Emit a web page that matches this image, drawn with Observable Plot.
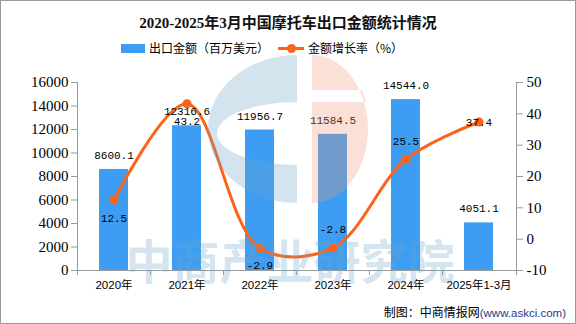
<!DOCTYPE html>
<html><head><meta charset="utf-8">
<script src="https://cdn.jsdelivr.net/npm/d3@7"></script>
<script src="https://cdn.jsdelivr.net/npm/@observablehq/plot@0.6"></script>
<style>
html,body{margin:0;padding:0;background:#fff;}
#wrap{position:relative;width:576px;height:324px;overflow:hidden;font-family:"Noto Sans CJK SC",sans-serif;color:#000;}
#chart{position:absolute;left:0;top:0;}
#border{position:absolute;left:0;top:0;width:576px;height:324px;box-sizing:border-box;border:1px solid #9a9a9a;pointer-events:none;z-index:6;}
#title{position:absolute;top:11px;left:0;width:576px;text-align:center;font-weight:bold;font-size:15px;font-family:"Liberation Serif","Noto Sans CJK SC",serif;color:#111;z-index:3;}
.leg{position:absolute;top:39px;font-size:12px;line-height:18px;white-space:nowrap;z-index:3;display:flex;align-items:center;}
.sw{display:inline-block;width:24px;height:9px;background:#3d9df3;margin-right:4px;}
.ln{position:relative;display:inline-block;width:26px;height:9px;margin-right:4px;}
.ln:before{content:"";position:absolute;left:0;top:3px;width:26px;height:3px;background:#fb6418;}
.ln:after{content:"";position:absolute;left:9px;top:0px;width:9px;height:9px;border-radius:50%;background:#fb6418;}
#caption{position:absolute;right:10px;top:303px;font-size:12px;white-space:nowrap;z-index:3;}
#caption span{color:#1d3c8c;font-family:"Liberation Sans",sans-serif;font-size:11.5px;}
#wm{position:absolute;left:0;top:0;pointer-events:none;z-index:4;}
</style></head>
<body>
<div id="wrap">
  <div id="chart"></div>
  <div id="title">2020-2025年3月中国摩托车出口金额统计情况</div>
  <div class="leg" style="left:121px"><span class="sw"></span>出口金额（百万美元）</div>
  <div class="leg" style="left:278px"><span class="ln"></span>金额增长率（%）</div>
  <div id="caption">制图：中商情报网<span>(www.askci.com)</span></div>
  <svg id="wm" width="576" height="324"></svg>
  <div id="border"></div>
</div>
<script>
// ---- data ----
const categories = ["2020年", "2021年", "2022年", "2023年", "2024年", "2025年1-3月"];
const exportValues = [8600.1, 12316.6, 11956.7, 11584.5, 14544.0, 4051.1];
const growthRates = [12.5, 43.2, -2.9, -2.8, 25.5, 37.4];
const leftTicks = [0, 2000, 4000, 6000, 8000, 10000, 12000, 14000, 16000];
const rightTicks = [-10, 0, 10, 20, 30, 40, 50];

// ---- style config ----
const growthLabelDy = [18, 18, 17, -18, -18, 0];
const barColor = "#3d9df3";
const lineColor = "#fb6418";
const axisGray = "#9a9a9a";

const leftMax = 16000, rMin = -10, rMax = 50;
const toLeft = g => (g - rMin) * leftMax / (rMax - rMin);
const fromLeft = v => v * (rMax - rMin) / leftMax + rMin;

const rows = categories.map((c, i) => ({
  cat: c, value: exportValues[i], growth: growthRates[i],
  gy: toLeft(growthRates[i])
}));

function axisLines(index, scales, values, dimensions) {
  const {width, height, marginLeft, marginRight, marginTop, marginBottom} = dimensions;
  const x0 = marginLeft, x1 = width - marginRight;
  const yb = height - marginBottom, yt = marginTop;
  const g = d3.create("svg:g").attr("stroke", axisGray).attr("fill", "none").attr("shape-rendering", "crispEdges");
  g.append("line").attr("x1", x0).attr("x2", x0).attr("y1", yt).attr("y2", yb);
  g.append("line").attr("x1", x1).attr("x2", x1).attr("y1", yt).attr("y2", yb);
  g.append("line").attr("x1", x0).attr("x2", x1 + 6).attr("y1", yb).attr("y2", yb);
  const n = categories.length, step = (x1 - x0) / n;
  for (let i = 0; i <= n; i++) {
    const x = x0 + i * step;
    g.append("line").attr("x1", x).attr("x2", x).attr("y1", yb).attr("y2", yb + 5);
  }
  return g.node();
}

const serif = "Liberation Serif, Noto Sans CJK SC, serif";
const mono = "Liberation Mono, monospace";

const marks = [
  Plot.barY(rows, {x: "cat", y: "value", fill: barColor}),
  Plot.line(rows, {x: "cat", y: "gy", stroke: lineColor, strokeWidth: 3, curve: "catmull-rom"}),
  Plot.dot(rows, {x: "cat", y: "gy", r: 4.5, fill: lineColor, stroke: null}),
  Plot.text(rows, {x: "cat", y: "value", text: d => d.value.toFixed(1), dy: -14, fontSize: 11, fontFamily: mono, fill: "#000"}),
  axisLines,
  Plot.axisY(leftTicks, {anchor: "left", tickSize: 6, tickPadding: 3, fontSize: 15, fontFamily: serif, stroke: axisGray, fill: "#000", label: null, tickFormat: v => String(v)}),
  Plot.axisY(rightTicks.map(toLeft), {anchor: "right", tickSize: 6, tickPadding: 4, fontSize: 15, fontFamily: serif, stroke: axisGray, fill: "#000", label: null, tickFormat: v => String(Math.round(fromLeft(v)))}),
  Plot.axisX({tickSize: 0, tickPadding: 10, fontSize: 11.5, fontFamily: "Liberation Sans, Noto Sans CJK SC, sans-serif", fill: "#000", label: null})
].concat(
  growthLabelDy.map((dy, i) => Plot.text([rows[i]], {x: "cat", y: "gy", text: d => d.growth.toFixed(1), dy, fontSize: 11, fontFamily: mono, fill: "#000"}))
);

const chart = Plot.plot({
  width: 576,
  height: 324,
  marginLeft: 77,
  marginRight: 60,
  marginTop: 82,
  marginBottom: 54,
  style: {background: "transparent", color: "#000", overflow: "visible"},
  x: {domain: categories, type: "band", paddingInner: 0.6, paddingOuter: 0.3, label: null},
  y: {domain: [0, leftMax], label: null},
  marks
});
document.getElementById("chart").appendChild(chart);

// ---- watermark (decorative) ----
const wm = d3.select("#wm");
const blue = "rgb(108,165,202)", orange = "rgb(238,152,118)";
wm.append("path")
  .attr("fill", blue).attr("fill-opacity", 0.3).attr("fill-rule", "evenodd")
  .attr("d", "M297,55 A89,74 0 0 0 297,203 Z M297,102 A80,31.5 0 0 0 297,165 Z");
wm.append("path")
  .attr("fill", orange).attr("fill-opacity", 0.3).attr("fill-rule", "evenodd")
  .attr("d", "M312,55 A56,74 0 0 1 312,203 Z M312,90 L362,90 L366,102 L312,102 Z");
wm.append("text")
  .attr("x", 290).attr("y", 258).attr("text-anchor", "middle").attr("dominant-baseline", "central")
  .attr("font-family", "Noto Sans CJK SC").attr("font-weight", "bold").attr("font-size", 47)
  .attr("fill", blue).attr("fill-opacity", 0.3)
  .text("中商产业研究院");
</script>
</body></html>
